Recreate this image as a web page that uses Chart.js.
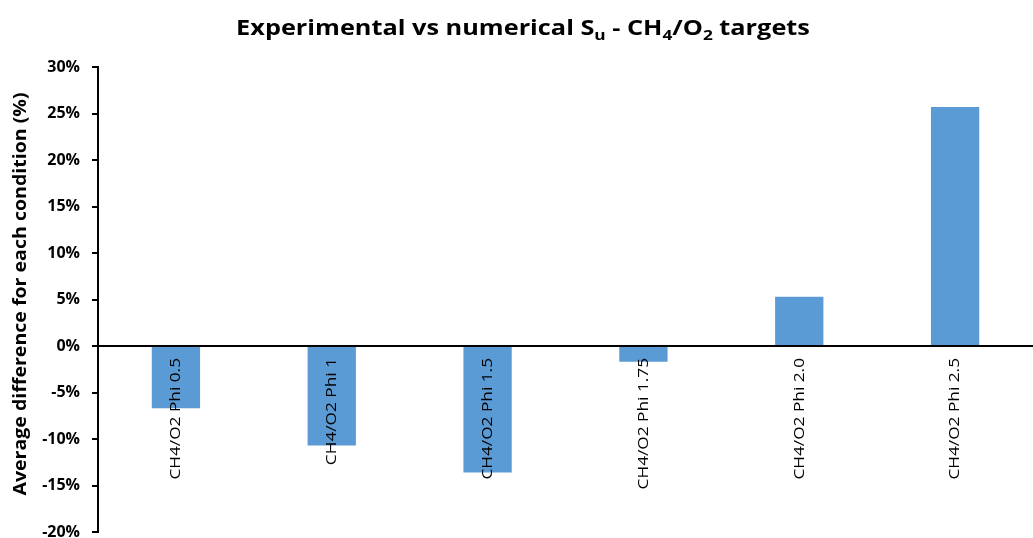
<!DOCTYPE html>
<html>
<head>
<meta charset="utf-8">
<script src="https://cdn.jsdelivr.net/npm/chart.js@4.4.1/dist/chart.umd.min.js"></script>
<style>
  html, body { margin: 0; padding: 0; background: #fff; }
  #wrap { width: 1033px; height: 538px; }
</style>
</head>
<body>
<div id="wrap"><canvas id="graficoSu"></canvas></div>
<script>
const categorias = ['CH4/O2 Phi 0.5', 'CH4/O2 Phi 1', 'CH4/O2 Phi 1.5', 'CH4/O2 Phi 1.75', 'CH4/O2 Phi 2.0', 'CH4/O2 Phi 2.5'];
const diferencas = [-6.7, -10.7, -13.6, -1.7, 5.3, 25.7];
const ticksY = [-20, -15, -10, -5, 0, 5, 10, 15, 20, 25, 30];
const tituloEixoY = 'Average difference for each condition (%)';

const fonte = '"Open Sans", "Noto Sans", sans-serif';
const esticar = 1.15; // alarga o texto no sentido da escrita

// titulo com subscritos (S_u, CH_4, O_2)
const tituloPlugin = {
  id: 'tituloSub',
  afterDraw(chart) {
    const ctx = chart.ctx;
    const partes = [
      ['Experimental vs numerical S', false], ['u', true], [' - CH', false],
      ['4', true], ['/O', false], ['2', true], [' targets', false]
    ];
    const grande = 'bold 22px ' + fonte;
    const pequeno = 'bold 15px ' + fonte;
    ctx.save();
    let total = 0;
    partes.forEach(p => { ctx.font = p[1] ? pequeno : grande; total += ctx.measureText(p[0]).width; });
    ctx.translate(523 - total * esticar / 2, 0);
    ctx.scale(esticar, 1);
    let x = 0;
    ctx.fillStyle = '#000';
    ctx.textBaseline = 'alphabetic';
    partes.forEach(p => {
      ctx.font = p[1] ? pequeno : grande;
      ctx.fillText(p[0], x, p[1] ? 40 : 35);
      x += ctx.measureText(p[0]).width;
    });
    ctx.restore();
  }
};

// titulo do eixo y, na vertical
const eixoYPlugin = {
  id: 'eixoYTitulo',
  afterDraw(chart) {
    const ctx = chart.ctx;
    ctx.save();
    ctx.translate(21, 294);
    ctx.rotate(-Math.PI / 2);
    ctx.scale(esticar, 1);
    ctx.font = 'bold 17px ' + fonte;
    ctx.fillStyle = '#000';
    ctx.textAlign = 'center';
    ctx.textBaseline = 'middle';
    ctx.fillText(tituloEixoY, 0, 0);
    ctx.restore();
  }
};

// linha do zero e rotulos das categorias na vertical
const eixoZeroPlugin = {
  id: 'eixoZero',
  afterDatasetsDraw(chart) {
    const ctx = chart.ctx;
    const xs = chart.scales.x;
    const y0 = chart.scales.y.getPixelForValue(0);
    ctx.save();
    ctx.strokeStyle = '#000';
    ctx.lineWidth = 2;
    ctx.beginPath();
    ctx.moveTo(chart.chartArea.left, y0);
    ctx.lineTo(chart.chartArea.right, y0);
    ctx.stroke();

    ctx.font = '15px ' + fonte;
    ctx.fillStyle = '#000';
    ctx.textAlign = 'right';
    ctx.textBaseline = 'middle';
    categorias.forEach((c, i) => {
      ctx.save();
      ctx.translate(xs.getPixelForValue(i), y0 + 12);
      ctx.rotate(-Math.PI / 2);
      ctx.scale(esticar, 1);
      ctx.fillText(c, 0, 0);
      ctx.restore();
    });
    ctx.restore();
  }
};

const ctxSu = document.getElementById('graficoSu').getContext('2d');
new Chart(ctxSu, {
  type: 'bar',
  data: {
    labels: categorias,
    datasets: [{
      data: diferencas,
      backgroundColor: '#5b9bd5',
      borderWidth: 0,
      barPercentage: 0.62,
      categoryPercentage: 0.5
    }]
  },
  options: {
    responsive: true,
    maintainAspectRatio: false,
    animation: false,
    layout: { padding: { top: 67, bottom: 6, left: 0, right: 0 } },
    scales: {
      x: { display: false },
      y: {
        min: -20,
        max: 30,
        afterBuildTicks: (scale) => { scale.ticks = ticksY.map(v => ({ value: v })); },
        afterFit: (scale) => {
          scale.width = 98;
          scale.paddingTop = 0;
          scale.paddingBottom = 0;
        },
        border: { color: '#000', width: 2 },
        grid: { drawOnChartArea: false, drawTicks: true, tickLength: 6, color: '#000', lineWidth: 2 },
        ticks: {
          color: '#000',
          padding: 12,
          font: { family: fonte, size: 16, weight: 'bold' },
          callback: v => v + '%'
        },
        title: { display: false }
      }
    },
    plugins: {
      legend: { display: false },
      title: { display: false },
      tooltip: { enabled: false }
    }
  },
  plugins: [tituloPlugin, eixoYPlugin, eixoZeroPlugin]
});
</script>
</body>
</html>
